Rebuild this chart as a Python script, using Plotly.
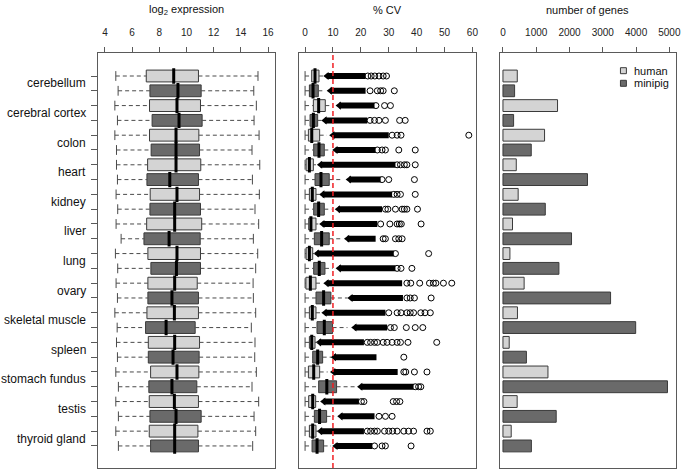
import plotly.graph_objects as go

tissues = ["cerebellum", "cerebral cortex", "colon", "heart", "kidney", "liver", "lung",
           "ovary", "skeletal muscle", "spleen", "stomach fundus", "testis", "thyroid gland"]

# ---- log2 expression box statistics ----
expr_h_low = [4.80, 4.73, 4.73, 4.85, 4.82, 4.82, 4.77, 4.82, 4.73, 4.85, 4.80, 4.80, 4.80]
expr_h_q1 = [7.04, 7.28, 7.28, 7.14, 7.33, 7.07, 7.16, 7.16, 7.09, 7.19, 7.36, 7.26, 7.26]
expr_h_med = [9.06, 9.30, 9.23, 9.23, 9.30, 9.13, 9.30, 9.13, 9.11, 9.13, 9.30, 9.11, 9.13]
expr_h_q3 = [10.88, 11.03, 10.91, 11.05, 10.96, 11.12, 11.03, 10.79, 10.88, 10.96, 10.91, 10.88, 10.84]
expr_h_high = [15.26, 15.14, 15.34, 15.39, 15.36, 15.31, 15.24, 14.90, 15.09, 15.04, 15.14, 15.31, 15.09]

expr_m_low = [4.97, 4.92, 4.85, 4.92, 4.94, 5.19, 4.94, 4.92, 4.90, 4.92, 4.99, 4.99, 4.99]
expr_m_q1 = [7.31, 7.47, 7.40, 7.09, 7.31, 6.87, 7.38, 7.16, 6.99, 7.19, 7.23, 7.31, 7.36]
expr_m_med = [9.37, 9.45, 9.23, 8.77, 9.13, 8.72, 9.26, 8.93, 8.50, 9.01, 8.93, 9.23, 9.13]
expr_m_q3 = [11.08, 11.15, 10.96, 10.88, 11.03, 11.01, 11.03, 10.88, 10.64, 10.93, 10.76, 11.08, 10.88]
expr_m_high = [14.95, 14.97, 14.82, 14.85, 15.04, 14.92, 15.09, 14.92, 14.77, 15.02, 14.82, 14.97, 14.87]

# ---- % CV box statistics ----
cv_h_low = [0, 0, 0, 0, 0, 0, 0, 0, 0, 0, 0, 0, 0]
cv_h_q1 = [2.38, 2.97, 1.2, 0.37, 1.55, 1.3, 0.37, 0.3, 1.55, 1.55, 1.2, 1.3, 1.55]
cv_h_med = [3.57, 4.87, 2.4, 1.55, 2.6, 2.1, 1.55, 1.9, 2.6, 2.4, 3.1, 2.74, 2.74]
cv_h_q3 = [4.99, 7.25, 5.23, 2.97, 3.92, 3.92, 2.74, 3.92, 3.92, 3.57, 5.23, 3.8, 3.92]
cv_h_high = [6.65, 9.26, 7.8, 3.9, 5.5, 4.75, 3.6, 5.7, 5.5, 4.5, 8.1, 5.0, 4.8]
cv_h_dense_lo = [7.8, 12.2, 9.9, 5.5, 6.3, 6.3, 4.3, 7.8, 7.1, 5.1, 10.2, 6.65, 5.5]
cv_h_dense_hi = [21.7, 24.9, 30.0, 32.4, 31.2, 25.9, 31.8, 34.8, 28.8, 21.1, 33.2, 19.3, 21.1]
cv_h_outliers = [
    [22.5, 23.7, 25.0, 26.5, 28.0, 29.2],
    [25.4, 28.5, 30.6],
    [31.2, 33.0, 34.4, 58.7],
    [33.0, 34.2, 35.6, 36.5, 39.5],
    [31.8, 33.0, 34.2, 39.5],
    [27.1, 30.4, 33.0, 33.8, 34.5, 41.6],
    [32.4, 44.3],
    [36.5, 37.9, 41.1, 44.6, 46.0, 46.9, 49.6, 52.6],
    [30.0, 33.0, 34.4, 36.5, 37.7, 38.9, 41.5, 43.0, 44.9],
    [22.3, 23.5, 24.9, 25.9, 28.0, 29.4, 31.2, 33.0, 34.2, 36.9, 47.2],
    [35.4, 36.1, 39.2, 43.7],
    [20.2, 21.1, 31.6, 32.8, 34.0],
    [22.3, 23.5, 24.9, 25.9, 28.5, 30.0, 31.4, 33.0, 35.4, 37.1, 38.9, 43.7, 44.9],
]

cv_m_low = [0, 0, 0, 0, 0, 0, 0, 0, 0, 0, 0, 0, 0]
cv_m_q1 = [1.55, 1.79, 3.09, 3.57, 3.09, 3.33, 3.09, 3.92, 4.28, 2.74, 4.87, 3.33, 2.5]
cv_m_med = [2.86, 2.98, 4.99, 5.70, 4.87, 5.94, 5.1, 6.65, 6.9, 4.52, 7.8, 5.2, 4.3]
cv_m_q3 = [4.75, 4.52, 6.89, 8.67, 6.89, 8.67, 7.13, 9.26, 9.86, 6.3, 11.3, 7.72, 6.65]
cv_m_high = [6.9, 5.94, 8.9, 13.4, 9.5, 12.8, 9.9, 15.2, 15.2, 9.3, 18.8, 10.45, 9.3]
cv_m_dense_lo = [9.0, 7.1, 11.0, 15.8, 11.9, 15.2, 12.2, 16.4, 17.8, 10.45, 19.9, 12.8, 11.0]
cv_m_dense_hi = [21.7, 22.3, 25.3, 27.1, 27.6, 25.3, 32.4, 35.1, 29.4, 25.6, 38.9, 24.9, 24.1]
cv_m_outliers = [
    [23.3, 25.9, 27.1, 28.0, 32.0],
    [23.3, 24.9, 26.5, 28.8, 33.9, 35.9],
    [25.9, 27.6, 28.8, 33.6, 39.5],
    [27.6, 30.0, 39.2],
    [28.8, 29.7, 32.4, 34.8, 35.6, 36.5, 40.3],
    [28.0, 28.8, 32.4, 33.6, 34.8],
    [33.0, 34.4, 38.3],
    [36.5, 37.7, 39.2, 45.2],
    [30.6, 32.0, 36.3, 39.5, 42.2],
    [35.4],
    [39.5, 40.7, 41.5],
    [26.5, 28.8, 31.2],
    [24.9, 27.6, 28.8, 38.0],
]
CV_THRESHOLD = 10

# ---- number of genes ----
genes_human = [430, 1640, 1250, 400, 457, 287, 209, 636, 436, 188, 1352, 427, 248]
genes_minipig = [350, 320, 850, 2540, 1272, 2060, 1681, 3233, 3988, 705, 4943, 1600, 854]

x_ticks_expr = [4, 6, 8, 10, 12, 14, 16]
x_ticks_cv = [0, 10, 20, 30, 40, 50, 60]
x_ticks_genes = [0, 1000, 2000, 3000, 4000, 5000]

# ---------------- styling ----------------
W, H = 685, 471
C_H = "#d4d4d4"
C_M = "#6a6a6a"
C_EDGE = "#3a3a3a"
C_WHISK = "#4a4a4a"
C_FRAME = "#5a5a5a"
FONT = "Liberation Sans, Arial, Helvetica, sans-serif"

pos_h = [2 * i + 1 for i in range(len(tissues))]
pos_m = [2 * i + 2 for i in range(len(tissues))]

fig = go.Figure()


def add_boxes(xa, ya, pos, low, q1, med, q3, high, color, upper_cap=True):
    wx, wy = [], []
    for p, a, b, c, d in zip(pos, low, q1, q3, high):
        wx += [a, b, None, c, d, None]
        wy += [p, p, None, p, p, None]
    fig.add_trace(go.Scatter(x=wx, y=wy, mode="lines", xaxis=xa, yaxis=ya,
                             line=dict(color=C_WHISK, width=1, dash="4px,3px"),
                             showlegend=False, hoverinfo="skip"))
    cx = list(low) + (list(high) if upper_cap else [])
    cy = list(pos) + (list(pos) if upper_cap else [])
    fig.add_trace(go.Scatter(x=cx, y=cy, mode="markers", xaxis=xa, yaxis=ya,
                             marker=dict(symbol="line-ns", size=7,
                                         line=dict(color=C_WHISK, width=1)),
                             showlegend=False, hoverinfo="skip"))
    fig.add_trace(go.Bar(y=pos, x=[b - a for a, b in zip(q1, q3)], base=q1,
                         orientation="h", width=0.8, xaxis=xa, yaxis=ya,
                         marker=dict(color=color, line=dict(color=C_EDGE, width=1)),
                         showlegend=False, hoverinfo="skip"))
    fig.add_trace(go.Scatter(x=med, y=pos, mode="markers", xaxis=xa, yaxis=ya,
                             marker=dict(symbol="line-ns", size=11,
                                         line=dict(color="black", width=3)),
                             showlegend=False, hoverinfo="skip"))


def add_outliers(xa, ya, pos, dlo, dhi, outs):
    bx, by = [], []
    for p, a, b in zip(pos, dlo, dhi):
        bx += [a, b, None]
        by += [p, p, None]
    fig.add_trace(go.Scatter(x=bx, y=by, mode="lines", xaxis=xa, yaxis=ya,
                             line=dict(color="black", width=6),
                             showlegend=False, hoverinfo="skip"))
    fig.add_trace(go.Scatter(x=dlo, y=pos, mode="markers", xaxis=xa, yaxis=ya,
                             marker=dict(symbol="triangle-left", size=7, color="black"),
                             showlegend=False, hoverinfo="skip"))
    ox, oy = [], []
    for p, vals in zip(pos, outs):
        ox += vals
        oy += [p] * len(vals)
    fig.add_trace(go.Scatter(x=ox, y=oy, mode="markers", xaxis=xa, yaxis=ya,
                             marker=dict(symbol="circle-open", size=6, color="black",
                                         line=dict(width=1, color="black")),
                             showlegend=False, hoverinfo="skip"))


# panel 1
add_boxes("x", "y", pos_h, expr_h_low, expr_h_q1, expr_h_med, expr_h_q3, expr_h_high, C_H)
add_boxes("x", "y", pos_m, expr_m_low, expr_m_q1, expr_m_med, expr_m_q3, expr_m_high, C_M)

# panel 2
add_outliers("x2", "y2", pos_h, cv_h_dense_lo, cv_h_dense_hi, cv_h_outliers)
add_outliers("x2", "y2", pos_m, cv_m_dense_lo, cv_m_dense_hi, cv_m_outliers)
add_boxes("x2", "y2", pos_h, cv_h_low, cv_h_q1, cv_h_med, cv_h_q3, cv_h_high, C_H, upper_cap=False)
add_boxes("x2", "y2", pos_m, cv_m_low, cv_m_q1, cv_m_med, cv_m_q3, cv_m_high, C_M, upper_cap=False)

# panel 3
fig.add_trace(go.Bar(y=pos_h, x=genes_human, orientation="h", width=0.8, xaxis="x3", yaxis="y3",
                     marker=dict(color=C_H, line=dict(color=C_EDGE, width=1)),
                     name="human", showlegend=False))
fig.add_trace(go.Bar(y=pos_m, x=genes_minipig, orientation="h", width=0.8, xaxis="x3", yaxis="y3",
                     marker=dict(color=C_M, line=dict(color=C_EDGE, width=1)),
                     name="minipig", showlegend=False))

fig.add_shape(type="line", xref="x2", yref="y2 domain", x0=CV_THRESHOLD, x1=CV_THRESHOLD,
              y0=0, y1=1, line=dict(color="#f01e23", width=1.5, dash="5px,3px"), layer="above")

# axes
ydom = [1 - 468 / H, 1 - 53 / H]
yrange = [27.49, -0.554]
doms = {
    "x": [99 / W, 277 / W],
    "x2": [300.7 / W, 479 / W],
    "x3": [503.3 / W, 680.7 / W],
}
xranges = {"x": [3.51, 16.51], "x2": [-2.35, 61.1], "x3": [-100, 5191]}
xticks = {"x": x_ticks_expr, "x2": x_ticks_cv, "x3": x_ticks_genes}

common_x = dict(showline=True, mirror=True, linecolor=C_FRAME, linewidth=1,
                ticks="outside", ticklen=5, tickcolor=C_FRAME, side="top",
                tickfont=dict(size=10, color="#222", family=FONT),
                ticklabelstandoff=7,
                showgrid=False, zeroline=False, fixedrange=True)
layout_axes = {}
for k in ["x", "x2", "x3"]:
    name = "xaxis" if k == "x" else "xaxis" + k[1:]
    yname = "yaxis" if k == "x" else "yaxis" + k[1:]
    ya = "y" if k == "x" else "y" + k[1:]
    layout_axes[name] = dict(common_x, domain=doms[k], range=xranges[k],
                             tickmode="array", tickvals=xticks[k], anchor=ya)
    yax = dict(domain=ydom, range=yrange, anchor=k, showline=True, mirror=True,
               linecolor=C_FRAME, linewidth=1, showgrid=False, zeroline=False,
               fixedrange=True)
    if k == "x":
        yax.update(tickmode="array", tickvals=pos_h + pos_m, showticklabels=False,
                   ticks="outside", ticklen=6, tickcolor=C_FRAME)
    else:
        yax.update(showticklabels=False, ticks="")
    layout_axes[yname] = yax

fig.update_layout(**layout_axes)

annotations = []
for i, t in enumerate(tissues):
    annotations.append(dict(xref="paper", yref="y", x=89 / W, y=pos_h[i] + 0.5, text=t,
                            showarrow=False, xanchor="right", yanchor="middle",
                            font=dict(size=12, color="#111", family=FONT)))
titles = [("log<sub>2</sub> expression", "x"), ("% CV", "x2"), ("number of genes", "x3")]
for txt, k in titles:
    d = doms[k]
    annotations.append(dict(xref="paper", yref="paper", x=(d[0] + d[1]) / 2, y=1 - 10 / H,
                            text=txt, showarrow=False, xanchor="center", yanchor="middle",
                            font=dict(size=11, color="#111", family=FONT)))

legend_items = [("human", C_H, 70.7), ("minipig", C_M, 83.3)]
for lab, col, yy in legend_items:
    fig.add_shape(type="rect", xref="paper", yref="paper",
                  x0=(628 - 3) / W, x1=(628 + 3) / W,
                  y0=1 - (yy + 3) / H, y1=1 - (yy - 3) / H,
                  fillcolor=col, line=dict(color=C_EDGE, width=1))
    annotations.append(dict(xref="paper", yref="paper", x=637 / W, y=1 - yy / H, text=lab,
                            showarrow=False, xanchor="left", yanchor="middle",
                            font=dict(size=11, color="#111", family=FONT)))

fig.update_layout(width=W, height=H, margin=dict(l=0, r=0, t=0, b=0),
                  paper_bgcolor="white", plot_bgcolor="white", barmode="overlay",
                  annotations=annotations, showlegend=False,
                  font=dict(family=FONT, color="#111"))

fig.write_html("out.html", config={"displayModeBar": False, "staticPlot": True},
               post_script="document.body.style.margin='0px';"
                           "document.body.style.overflow='hidden';")
